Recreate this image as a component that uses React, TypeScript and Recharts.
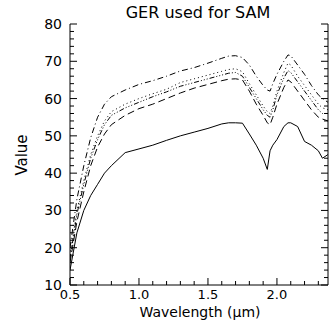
import { LineChart, Line, XAxis, YAxis } from "recharts";

const wavelength = [
  0.5, 0.55, 0.6, 0.65, 0.7, 0.75, 0.8, 0.9, 1.0, 1.1, 1.2, 1.3, 1.4, 1.5, 1.6,
  1.65, 1.7, 1.75, 1.8, 1.85, 1.9, 1.93, 1.95, 1.97, 2.0, 2.05, 2.08, 2.1, 2.15,
  2.2, 2.25, 2.3, 2.33, 2.37,
];

const dashDot = [
  20, 33, 42, 49.5, 55, 58.5, 60.5, 62.3, 63.8, 64.8, 66, 67.4, 68.3, 69.5, 70.8,
  71.4, 71.5, 71, 69, 66, 63.5, 62.3, 62, 64, 66.5, 70, 71.7, 71.5, 69, 66.5,
  63.5, 61, 60, 59,
];

const dotted = [
  18, 30, 38, 45, 50, 54, 56.5, 58.5, 60, 61.3, 62.5, 64.3, 65.3, 66.3, 67.3,
  67.8, 68, 67.2, 64, 61, 58, 56.5, 56, 58, 62, 67, 69.5, 69, 66, 63.5, 61,
  58.5, 57.5, 57,
];

const dashDotDot = [
  17, 29, 37, 44, 49, 53, 55.5, 57.5, 59, 60.5, 61.8, 63.3, 64.3, 65.3, 66.3,
  66.8, 67, 66, 63, 60, 57, 55.5, 55, 57, 61, 65.5, 67.5, 67, 64.5, 62, 59.5, 57,
  56, 56,
];

const dashed = [
  16, 27, 35, 42, 47, 50.5, 53, 55.5, 57.3, 58.5, 60, 61.5, 62.8, 63.8, 64.8,
  65.2, 65.3, 65, 62, 58.5, 55.5, 53.5, 53, 55, 58.5, 63, 65, 64.5, 62, 59.5, 57,
  55, 54.5, 54,
];

const solid = [
  14, 24, 30, 34, 37, 40, 42, 45.5, 46.5, 47.5, 48.8, 50, 51, 52, 53.2, 53.5,
  53.5, 53.4, 50.5, 47.5, 44, 41, 46, 47.5, 49, 52.5, 53.5, 53.5, 52.5, 48.5,
  47.5, 46, 44, 45,
];

const xTicks = [
  0.5, 0.6, 0.7, 0.8, 0.9, 1.0, 1.1, 1.2, 1.3, 1.4, 1.5, 1.6, 1.7, 1.8, 1.9, 2.0,
  2.1, 2.2, 2.3,
];
const yTicks = [
  10, 12, 14, 16, 18, 20, 22, 24, 26, 28, 30, 32, 34, 36, 38, 40, 42, 44, 46, 48,
  50, 52, 54, 56, 58, 60, 62, 64, 66, 68, 70, 72, 74, 76, 78, 80,
];

const data = wavelength.map((w, i) => ({
  w,
  a: dashDot[i],
  b: dotted[i],
  c: dashDotDot[i],
  d: dashed[i],
  e: solid[i],
}));

const FONT = "DejaVu Sans, sans-serif";
const isMajorX = (v: number) => Math.abs(v * 2 - Math.round(v * 2)) < 1e-6;
const isMajorY = (v: number) => v % 10 === 0;

const BottomTick = ({ x, y, payload }: any) => {
  const major = isMajorX(payload.value);
  return (
    <g>
      <line x1={x} y1={y} x2={x} y2={y - (major ? 7 : 4)} stroke="#000" />
      {major && (
        <text x={x} y={y + 14} textAnchor="middle" fontSize={13} fontFamily={FONT} fill="#000">
          {payload.value.toFixed(1)}
        </text>
      )}
    </g>
  );
};

const TopTick = ({ x, y, payload }: any) => {
  const major = isMajorX(payload.value);
  return <line x1={x} y1={y} x2={x} y2={y + (major ? 7 : 4)} stroke="#000" />;
};

const LeftTick = ({ x, y, payload }: any) => {
  const major = isMajorY(payload.value);
  return (
    <g>
      <line x1={x} y1={y} x2={x + (major ? 7 : 4)} y2={y} stroke="#000" />
      {major && (
        <text x={x - 8} y={y + 5} textAnchor="end" fontSize={14} fontFamily={FONT} fill="#000">
          {payload.value}
        </text>
      )}
    </g>
  );
};

const RightTick = ({ x, y, payload }: any) => {
  const major = isMajorY(payload.value);
  return <line x1={x} y1={y} x2={x - (major ? 7 : 4)} y2={y} stroke="#000" />;
};

export default function App() {
  return (
    <div style={{ position: "absolute", left: 0, top: 0, width: 329, height: 323, background: "#fff" }}>
      <LineChart width={329} height={323} data={data} margin={{ top: 24, right: 0, bottom: 0, left: 0 }}>
        <XAxis
          dataKey="w"
          type="number"
          domain={[0.5, 2.37]}
          allowDataOverflow
          ticks={xTicks}
          interval={0}
          tickSize={0}
          tickMargin={0}
          tick={<BottomTick />}
          height={38}
          axisLine={{ stroke: "#000" }}
        />
        <XAxis
          xAxisId="top"
          orientation="top"
          type="number"
          domain={[0.5, 2.37]}
          allowDataOverflow
          ticks={xTicks}
          interval={0}
          tickSize={0}
          tickMargin={0}
          tick={<TopTick />}
          height={0}
          axisLine={{ stroke: "#000" }}
        />
        <YAxis
          type="number"
          domain={[10, 80]}
          allowDataOverflow
          ticks={yTicks}
          interval={0}
          tickSize={0}
          tickMargin={0}
          tick={<LeftTick />}
          width={70}
          axisLine={{ stroke: "#000" }}
        />
        <YAxis
          yAxisId="right"
          orientation="right"
          type="number"
          domain={[10, 80]}
          allowDataOverflow
          ticks={yTicks}
          interval={0}
          tickSize={0}
          tickMargin={0}
          tick={<RightTick />}
          width={1}
          axisLine={{ stroke: "#000" }}
        />
        <Line dataKey="a" stroke="#000" strokeWidth={1} strokeDasharray="6 3 1 3" dot={false} isAnimationActive={false} />
        <Line dataKey="b" stroke="#000" strokeWidth={1} strokeDasharray="1 3" dot={false} isAnimationActive={false} />
        <Line dataKey="c" stroke="#000" strokeWidth={1} strokeDasharray="5 2 1 2 1 2 1 2" dot={false} isAnimationActive={false} />
        <Line dataKey="d" stroke="#000" strokeWidth={1} strokeDasharray="7 4" dot={false} isAnimationActive={false} />
        <Line dataKey="e" stroke="#000" strokeWidth={1} dot={false} isAnimationActive={false} />
      </LineChart>
      <svg width={329} height={323} style={{ position: "absolute", left: 0, top: 0, pointerEvents: "none" }}>
        <text x={198} y={18} textAnchor="middle" fontSize={16} fontFamily={FONT} fill="#000">
          GER used for SAM
        </text>
        <text x={200} y={317} textAnchor="middle" fontSize={14} fontFamily={FONT} fill="#000">
          Wavelength (μm)
        </text>
        <text x={27} y={155} textAnchor="middle" fontSize={15} fontFamily={FONT} fill="#000" transform="rotate(-90 27 155)">
          Value
        </text>
      </svg>
    </div>
  );
}
